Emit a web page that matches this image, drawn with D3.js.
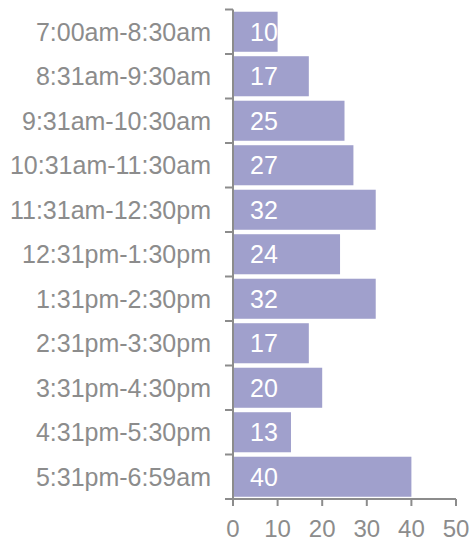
<!DOCTYPE html>
<html>
<head>
<meta charset="utf-8">
<script src="https://cdn.jsdelivr.net/npm/d3@7"></script>
<style>
  html, body { margin: 0; padding: 0; background: #fff; }
  svg { display: block; }
  text { font-family: "Liberation Sans", Arial, sans-serif; }
</style>
</head>
<body>
<svg id="chart" width="470" height="542"></svg>
<script>
const categories = [
  "7:00am-8:30am", "8:31am-9:30am", "9:31am-10:30am", "10:31am-11:30am",
  "11:31am-12:30pm", "12:31pm-1:30pm", "1:31pm-2:30pm", "2:31pm-3:30pm",
  "3:31pm-4:30pm", "4:31pm-5:30pm", "5:31pm-6:59am"
];
const values = [10, 17, 25, 27, 32, 24, 32, 17, 20, 13, 40];
const xTicks = [0, 10, 20, 30, 40, 50];

const svg = d3.select("#chart");
const mLeft = 233, mRight = 456, mTop = 9.5, mBottom = 499;
const axisColor = "#8c8c8c", textColor = "#8c8c8c", barColor = "#a0a0cc";

const x = d3.scaleLinear().domain([0, 50]).range([mLeft, mRight]);
const y = d3.scaleBand().domain(categories).range([mTop, mBottom])
  .paddingInner(0.1).paddingOuter(0.05);

// bars
svg.append("g").selectAll("rect").data(values).join("rect")
  .attr("x", x(0))
  .attr("y", (d, i) => y(categories[i]))
  .attr("width", d => x(d) - x(0))
  .attr("height", y.bandwidth())
  .attr("fill", barColor);

// value labels
svg.append("g").selectAll("text").data(values).join("text")
  .attr("x", x(0) + 17)
  .attr("y", (d, i) => y(categories[i]) + y.bandwidth() / 2)
  .attr("dy", "0.36em")
  .attr("fill", "#fff")
  .attr("font-size", 25)
  .text(d => d);

// left axis
const ya = svg.append("g");
ya.append("line").attr("x1", mLeft).attr("x2", mLeft).attr("y1", mTop).attr("y2", mBottom)
  .attr("stroke", axisColor).attr("stroke-width", 2);
const half = y.step() * y.paddingInner() / 2;
const bounds = categories.map(c => y(c) - half).concat([mBottom]);
ya.selectAll("line.tk").data(bounds).join("line").attr("class", "tk")
  .attr("x1", mLeft - 8).attr("x2", mLeft).attr("y1", d => d).attr("y2", d => d)
  .attr("stroke", axisColor).attr("stroke-width", 2);
ya.selectAll("text").data(categories).join("text")
  .attr("x", mLeft - 22)
  .attr("y", d => y(d) + y.bandwidth() / 2)
  .attr("dy", "0.36em")
  .attr("text-anchor", "end")
  .attr("fill", textColor)
  .attr("font-size", 25)
  .text(d => d);

// bottom axis
const xa = svg.append("g");
xa.append("line").attr("x1", mLeft).attr("x2", mRight).attr("y1", mBottom).attr("y2", mBottom)
  .attr("stroke", axisColor).attr("stroke-width", 2);
xa.selectAll("line.tk").data(xTicks).join("line").attr("class", "tk")
  .attr("x1", d => x(d)).attr("x2", d => x(d)).attr("y1", mBottom).attr("y2", mBottom + 7)
  .attr("stroke", axisColor).attr("stroke-width", 2);
xa.selectAll("text").data(xTicks).join("text")
  .attr("x", d => x(d))
  .attr("y", 537)
  .attr("text-anchor", "middle")
  .attr("fill", textColor)
  .attr("font-size", 24)
  .text(d => d);
</script>
</body>
</html>
